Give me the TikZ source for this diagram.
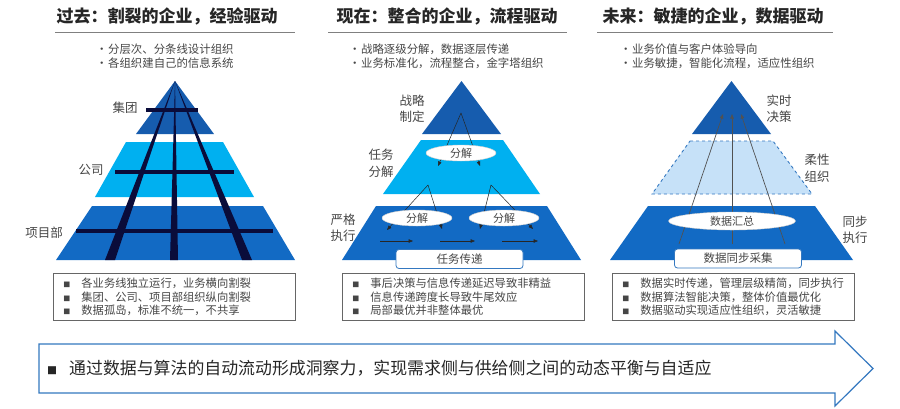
\documentclass[tikz,border=0pt]{standalone}
\usepackage{fontspec}
\setmainfont{Noto Sans CJK SC}
\usetikzlibrary{
    arrows.meta,
    positioning,
    shapes.geometric
}
\definecolor{deepblue}{RGB}{22,92,174}
\definecolor{midblue}{RGB}{18,106,196}
\definecolor{skyblue}{RGB}{0,176,240}
\definecolor{paleblue}{RGB}{198,225,248}
\definecolor{edgeblue}{RGB}{52,120,192}
\definecolor{navy}{RGB}{10,12,58}
\definecolor{ink}{RGB}{38,38,38}
\definecolor{greytext}{RGB}{70,70,70}
\tikzset{
  every node/.style={
    inner sep=1pt,
    text=greytext
  },
  heading/.style={font=\fontsize{17}{17}\selectfont\bfseries, text=ink},
  headrule/.style={draw=gray, line width=1pt},
  point/.style={anchor=west, font=\fontsize{11.4}{13}\selectfont},
  level/.style={font=\fontsize{12.5}{16.5}\selectfont, align=center},
  notebox/.style={
    draw=gray!80!black, line width=0.8pt, anchor=north west,
    minimum width=242pt, minimum height=47pt, text width=222pt,
    inner xsep=10pt, align=left, font=\fontsize{11.3}{13.5}\selectfont
  },
  split/.style={
    ellipse, fill=white, draw=gray!40, line width=0.4pt,
    minimum width=70pt, minimum height=16pt, inner sep=0pt,
    font=\fontsize{11}{11}\selectfont
  },
  tag/.style={
    fill=white, draw=edgeblue, line width=0.8pt, rounded corners=3pt,
    minimum width=127pt, minimum height=19pt, inner sep=0pt,
    font=\fontsize{11.5}{11.5}\selectfont
  },
  flow/.style={draw=ink, line width=0.5pt, -{Triangle[length=4.5pt,width=3.5pt]}},
  rise/.style={draw=ink!80, line width=0.7pt, -{Triangle[length=4.5pt,width=3.5pt]}},
  grid/.style={draw=navy, line width=3.2pt}
}
\newcommand{\boxmark}{\makebox[18pt][l]{\fontsize{7}{7}\selectfont ■}}
\newcommand{\dotmark}{\makebox[12pt][l]{•}}

\begin{document}
\begin{tikzpicture}[x=1pt,y=-1pt]
\path[use as bounding box, fill=white] (0,0) rectangle (900,408);

\node[heading] (t1) at (167,16) {过去：割裂的企业，经验驱动};
\node[heading] (t2) at (447,16) {现在：整合的企业，流程驱动};
\node[heading] (t3) at (713,16) {未来：敏捷的企业，数据驱动};
\foreach \l/\r in {55/295, 328/567, 597/833}
  \draw[headrule] (\l,32) -- (\r,32);

\node[point] (p11) at (95,49) {\dotmark 分层次、分条线设计组织};
\node[point] (p12) at (95,63) {\dotmark 各组织建自己的信息系统};
\node[point] (p21) at (348,49) {\dotmark 战略逐级分解，数据逐层传递};
\node[point] (p22) at (348,63) {\dotmark 业务标准化，流程整合，金字塔组织};
\node[point] (p31) at (619,49) {\dotmark 业务价值与客户体验导向};
\node[point] (p32) at (619,63) {\dotmark 业务敏捷，智能化流程，适应性组织};

\fill[deepblue] (175,81) -- (214,134) -- (136,134) -- cycle;
\fill[skyblue] (126,142) -- (223,142) -- (254,197) -- (95,197) -- cycle;
\fill[midblue] (92,206) -- (263,206) -- (295,260) -- (56,260) -- cycle;
\fill[navy] (175,81) -- (178,260) -- (170,260) -- cycle;
\fill[navy] (175,81) -- (115,260) -- (105,260) -- cycle;
\fill[navy] (175,81) -- (252,260) -- (242,260) -- cycle;
\foreach \y/\l/\r in {110/146/198, 172/115/234, 231/76/273}
  \draw[grid] (\l,\y) -- (\r,\y);
\node[level] (g1) at (125,108) {集团};
\node[level] (g2) at (91,170) {公司};
\node[level] (g3) at (44,233) {项目部};

\fill[deepblue] (461.5,81) -- (501,134) -- (422,134) -- cycle;
\fill[skyblue] (421,140) -- (503,140) -- (540,194) -- (383,194) -- cycle;
\fill[midblue] (376,206) -- (547,206) -- (581,260) -- (342,260) -- cycle;
\coordinate (s0) at (461,113);
\coordinate (s0l) at (438,166);
\coordinate (s0r) at (480,166);
\coordinate (s1) at (428,185);
\coordinate (s1l) at (387,230);
\coordinate (s1r) at (442,229);
\coordinate (s2) at (491,185);
\coordinate (s2l) at (480,229);
\coordinate (s2r) at (533,229);
\foreach \k in {0,1,2} {
  \draw[flow] (s\k) -- (s\k l);
  \draw[flow] (s\k) -- (s\k r);
}
\node[split] (f0) at (461,153) {分解};
\node[split] (f1) at (417,218) {分解};
\node[split] (f2) at (504,218) {分解};
\foreach \i/\a/\b in {1/380/413, 2/440/475, 3/502/538} {
  \coordinate (h\i a) at (\a,241);
  \coordinate (h\i b) at (\b,241);
  \draw[flow] (h\i a) -- (h\i b);
}
\node[tag] (task) at (459.5,259) {任务传递};
\node[level] (m1) at (412,108.5) {战略\\制定};
\node[level] (m2) at (381,163.5) {任务\\分解};
\node[level] (m3) at (343,228) {严格\\执行};

\fill[deepblue] (731.5,81) -- (771,134) -- (692,134) -- cycle;
\filldraw[fill=paleblue, draw=edgeblue, dashed, line width=0.9pt]
  (690,141) -- (773,141) -- (812,194) -- (652,194) -- cycle;
\fill[midblue] (648,206) -- (815,206) -- (853,260) -- (610,260) -- cycle;
\foreach \i/\a/\b in {1/679/723, 2/732/732, 3/785/741} {
  \coordinate (d\i) at (\a,244);
  \coordinate (u\i) at (\b,114);
  \draw[rise] (d\i) -- (u\i);
}
\node[split, minimum width=127pt, minimum height=18pt] (sum) at (732,221) {数据汇总};
\node[tag] (collect) at (738,258.5) {数据同步采集};
\node[level] (r1) at (779,108.5) {实时\\决策};
\node[level] (r2) at (817,168) {柔性\\组织};
\node[level] (r3) at (855,230) {同步\\执行};

\node[notebox] (n1) at (53,273) {\boxmark 各业务线独立运行，业务横向割裂\\
  \boxmark 集团、公司、项目部组织纵向割裂\\
  \boxmark 数据孤岛，标准不统一，不共享};
\node[notebox] (n2) at (342,273) {\boxmark 事后决策与信息传递延迟导致非精益\\
  \boxmark 信息传递跨度长导致牛尾效应\\
  \boxmark 局部最优并非整体最优};
\node[notebox] (n3) at (612,273) {\boxmark 数据实时传递，管理层级精简，同步执行\\
  \boxmark 数据算法智能决策，整体价值最优化\\
  \boxmark 数据驱动实现适应性组织，灵活敏捷};

\draw[edgeblue, line width=1.2pt, fill=white]
  (39,344) -- (835,344) -- (835,331) -- (873,368.5) -- (835,406)
  -- (835,393) -- (39,393) -- cycle;
\node[anchor=west, text=ink, font=\fontsize{16.9}{16.9}\selectfont] (goal) at (46,368.5)
  {\makebox[22pt][l]{\fontsize{10}{10}\selectfont ■}通过数据与算法的自动流动形成洞察力，实现需求侧与供给侧之间的动态平衡与自适应};
\end{tikzpicture}
\end{document}
